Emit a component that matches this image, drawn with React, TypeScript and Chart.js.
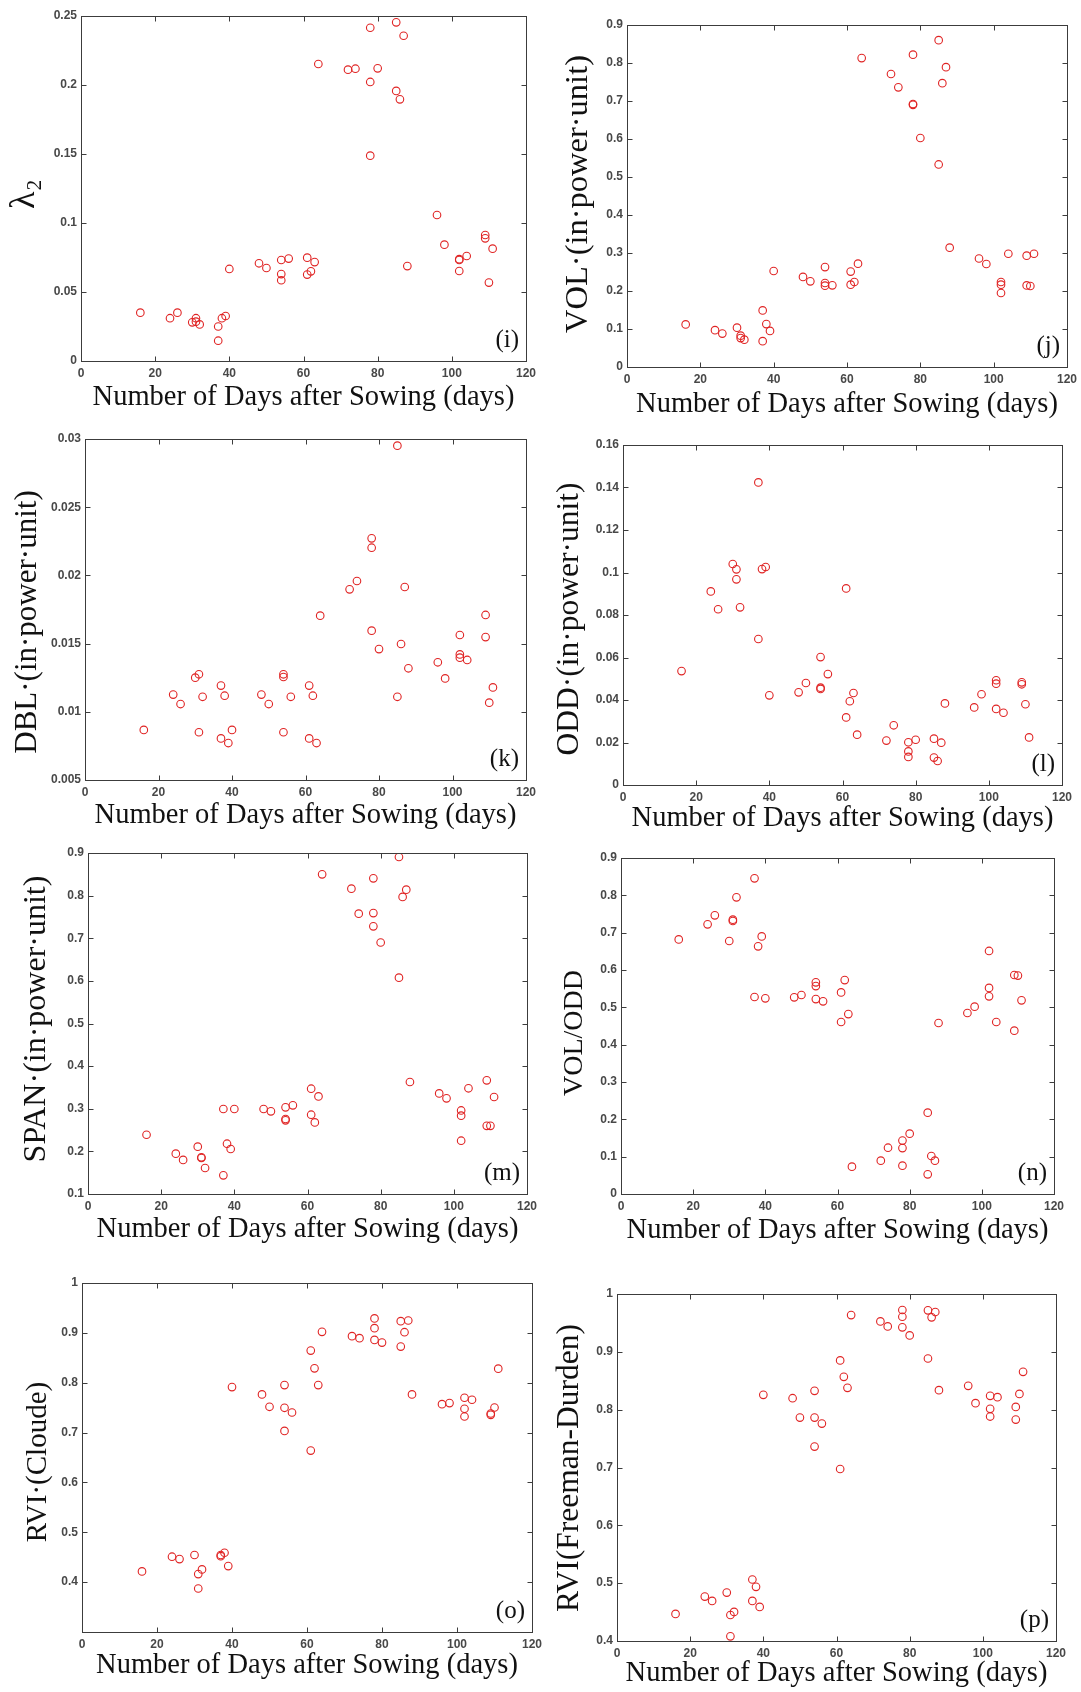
import React, { useEffect, useRef } from 'react';
import { Chart, registerables } from 'chart.js';

Chart.register(...registerables);

// ---- data ----
const days = [16, 24, 26, 30, 31, 31, 32, 37, 37, 38, 39, 40, 48, 50, 54, 54, 54, 56, 61, 61, 62, 63, 64, 72, 74, 78, 78, 78, 80, 85, 85, 86, 87, 88, 96, 98, 102, 102, 102, 104, 109, 109, 110, 111];

const lambda2 = [0.035, 0.031, 0.035, 0.028, 0.031, 0.0285, 0.0265, 0.025, 0.0147, 0.031, 0.0326, 0.0667, 0.0708, 0.0674, 0.0732, 0.063, 0.0585, 0.0742, 0.0749, 0.0626, 0.065, 0.0717, 0.2152, 0.2111, 0.2118, 0.2415, 0.2022, 0.1488, 0.2121, 0.2454, 0.1957, 0.1896, 0.2357, 0.0688, 0.1058, 0.0843, 0.0732, 0.0652, 0.0738, 0.0761, 0.0913, 0.0889, 0.0568, 0.0814];

const vol = [0.112, 0.097, 0.088, 0.1035, 0.0825, 0.076, 0.072, 0.149, 0.068, 0.113, 0.095, 0.2526, 0.237, 0.2254, 0.263, 0.221, 0.214, 0.215, 0.251, 0.2167, 0.2237, 0.272, 0.813, 0.771, 0.736, 0.822, 0.692, 0.69, 0.6026, 0.86, 0.533, 0.747, 0.789, 0.314, 0.2855, 0.271, 0.2237, 0.2166, 0.1947, 0.298, 0.293, 0.2147, 0.2132, 0.298];

const dbl = [0.00867, 0.01126, 0.01057, 0.0125, 0.01275, 0.0085, 0.0111, 0.01192, 0.00805, 0.01118, 0.00771, 0.00867, 0.01126, 0.01057, 0.01275, 0.01255, 0.0085, 0.0111, 0.01192, 0.00805, 0.01118, 0.00771, 0.01705, 0.01898, 0.01959, 0.02272, 0.02203, 0.01595, 0.0146, 0.02951, 0.0111, 0.01497, 0.01915, 0.01319, 0.01363, 0.01245, 0.01563, 0.01421, 0.01397, 0.0138, 0.0171, 0.01548, 0.01067, 0.01179];

const odd = [0.0536, 0.0911, 0.0827, 0.104, 0.1015, 0.0968, 0.0836, 0.1424, 0.0687, 0.1016, 0.1026, 0.0422, 0.0436, 0.048, 0.0602, 0.0458, 0.0452, 0.0522, 0.0925, 0.0318, 0.0394, 0.0433, 0.0237, 0.0209, 0.0281, 0.0201, 0.0158, 0.0132, 0.0213, 0.0218, 0.0129, 0.0113, 0.0199, 0.0384, 0.0365, 0.0427, 0.0493, 0.0477, 0.0358, 0.034, 0.0483, 0.0474, 0.038, 0.0224];

const span = [0.239, 0.1946, 0.18, 0.211, 0.186, 0.1845, 0.161, 0.1438, 0.2994, 0.218, 0.2056, 0.2994, 0.2994, 0.294, 0.3033, 0.276, 0.2728, 0.308, 0.347, 0.286, 0.268, 0.329, 0.85, 0.8163, 0.7577, 0.8406, 0.759, 0.728, 0.69, 0.8906, 0.6075, 0.797, 0.814, 0.3628, 0.336, 0.3244, 0.296, 0.2838, 0.225, 0.348, 0.3667, 0.26, 0.26, 0.3276];

const volOdd = [0.682, 0.7223, 0.7464, 0.6777, 0.7348, 0.7313, 0.7946, 0.8455, 0.5277, 0.6634, 0.69, 0.524, 0.5268, 0.533, 0.567, 0.557, 0.522, 0.516, 0.54, 0.4607, 0.573, 0.482, 0.0732, 0.0893, 0.124, 0.143, 0.123, 0.0759, 0.1616, 0.2179, 0.0527, 0.1018, 0.0893, 0.458, 0.4848, 0.5018, 0.651, 0.552, 0.5295, 0.4607, 0.5866, 0.4375, 0.585, 0.5188];

const rviCloude = [0.4215, 0.451, 0.4463, 0.4544, 0.4161, 0.3872, 0.4255, 0.4544, 0.452, 0.459, 0.4322, 0.7913, 0.7765, 0.7517, 0.7953, 0.7497, 0.7034, 0.7403, 0.8644, 0.6638, 0.8289, 0.7953, 0.902, 0.8933, 0.8893, 0.9289, 0.9094, 0.8859, 0.8805, 0.9235, 0.8725, 0.9013, 0.9248, 0.7765, 0.757, 0.7591, 0.7698, 0.7477, 0.7322, 0.7658, 0.7383, 0.7356, 0.7503, 0.8282];

const rviFD = [0.4468, 0.4768, 0.4693, 0.4837, 0.445, 0.4081, 0.4503, 0.5063, 0.4693, 0.4936, 0.4589, 0.8256, 0.8198, 0.7863, 0.8325, 0.7863, 0.7361, 0.7759, 0.8851, 0.6974, 0.8568, 0.8377, 0.9636, 0.9526, 0.944, 0.9723, 0.9607, 0.9423, 0.9284, 0.9717, 0.8885, 0.9596, 0.9688, 0.8337, 0.8412, 0.8112, 0.8239, 0.8014, 0.7881, 0.8216, 0.8048, 0.7829, 0.8273, 0.8654];

const xTitle = 'Number of Days after Sowing (days)';
const xMin = 0;
const xMax = 120;
const xStep = 20;

// ---- panel layout (page pixel positions) ----
type Panel = {
  label: string;
  yTitle: string;
  values: number[];
  yMin: number;
  yMax: number;
  yStep: number;
  hideY?: number[];
  box: [number, number, number, number];
  yTitlePos: [number, number];
  yTitleSize: number;
  xTitleOffset: number;
};

const panels: Panel[] = [
  { label: '(i)', yTitle: 'λ₂', values: lambda2, yMin: 0, yMax: 0.25, yStep: 0.05, box: [81, 16, 526, 361], yTitlePos: [25, 194], yTitleSize: 36, xTitleOffset: 37 },
  { label: '(j)', yTitle: 'VOL·(in·power·unit)', values: vol, yMin: 0, yMax: 0.9, yStep: 0.1, box: [627, 25, 1067, 367], yTitlePos: [578, 194], yTitleSize: 32.5, xTitleOffset: 38 },
  { label: '(k)', yTitle: 'DBL·(in·power·unit)', values: dbl, yMin: 0.005, yMax: 0.03, yStep: 0.005, box: [85, 439, 526, 780], yTitlePos: [28, 622], yTitleSize: 31, xTitleOffset: 36 },
  { label: '(l)', yTitle: 'ODD·(in·power·unit)', values: odd, yMin: 0, yMax: 0.16, yStep: 0.02, box: [623, 445, 1062, 785], yTitlePos: [570, 619], yTitleSize: 31.5, xTitleOffset: 34 },
  { label: '(m)', yTitle: 'SPAN·(in·power·unit)', values: span, yMin: 0.1, yMax: 0.9, yStep: 0.1, box: [88, 853, 527, 1194], yTitlePos: [37, 1019], yTitleSize: 32, xTitleOffset: 36 },
  { label: '(n)', yTitle: 'VOL/ODD', values: volOdd, yMin: 0, yMax: 0.9, yStep: 0.1, box: [621, 858, 1054, 1194], yTitlePos: [575, 1033], yTitleSize: 28, xTitleOffset: 37 },
  { label: '(o)', yTitle: 'RVI·(Cloude)', values: rviCloude, yMin: 0.3, yMax: 1, yStep: 0.1, hideY: [0.3], box: [82, 1283, 532, 1632], yTitlePos: [38, 1462], yTitleSize: 29, xTitleOffset: 34 },
  { label: '(p)', yTitle: 'RVI(Freeman-Durden)', values: rviFD, yMin: 0.4, yMax: 1, yStep: 0.1, box: [617, 1294, 1056, 1641], yTitlePos: [570, 1468], yTitleSize: 31.5, xTitleOffset: 33 },
];

const SERIF = '"Liberation Serif", "Times New Roman", serif';
const SANS = '"Liberation Sans", Arial, sans-serif';
const X_TITLE_SIZE = 28.5;
const PAD_T = 12;
const PAD_R = 30;
const TICK_FONT = { family: SANS, size: 12, weight: 'bold' as const };
const TICK_COLOR = '#484848';

const framePlugin = {
  id: 'matlabFrame',
  afterDatasetsDraw(chart: any, _args: any, opts: any) {
    const { ctx, chartArea: a, scales } = chart;
    ctx.save();
    ctx.strokeStyle = '#3c3c3c';
    ctx.lineWidth = 1;
    const l = Math.round(a.left) + 0.5;
    const r = Math.round(a.right) + 0.5;
    const t = Math.round(a.top) + 0.5;
    const b = Math.round(a.bottom) + 0.5;
    ctx.strokeRect(l, t, r - l, b - t);
    const len = 5;
    ctx.beginPath();
    scales.x.ticks.forEach((tk: any) => {
      const px = Math.round(scales.x.getPixelForValue(tk.value)) + 0.5;
      ctx.moveTo(px, b); ctx.lineTo(px, b - len);
      ctx.moveTo(px, t); ctx.lineTo(px, t + len);
    });
    scales.y.ticks.forEach((tk: any) => {
      const py = Math.round(scales.y.getPixelForValue(tk.value)) + 0.5;
      ctx.moveTo(l, py); ctx.lineTo(l + len, py);
      ctx.moveTo(r, py); ctx.lineTo(r - len, py);
    });
    ctx.stroke();
    // panel letter
    if (opts && opts.label) {
      ctx.font = `25px ${SERIF}`;
      ctx.fillStyle = '#111';
      ctx.textAlign = 'right';
      ctx.textBaseline = 'alphabetic';
      ctx.fillText(opts.label, a.right - 7, a.bottom - 14);
    }
    // y-axis title (rotated), placed at its measured centre
    if (opts && opts.yTitle) {
      ctx.translate(opts.yTitleX, opts.yTitleY);
      ctx.rotate(-Math.PI / 2);
      ctx.font = `${opts.yTitleSize}px ${SERIF}`;
      ctx.fillStyle = '#111';
      ctx.textAlign = 'center';
      ctx.textBaseline = 'middle';
      ctx.fillText(opts.yTitle, 0, 0);
    }
    ctx.restore();
  },
};

const fmt = (v: number) => String(Number(Number(v).toFixed(4)));

function PanelChart({ p }: { p: Panel }) {
  const ref = useRef<HTMLCanvasElement | null>(null);
  const [L, T, R, B] = p.box;
  const left = Math.max(0, Math.min(L - 75, Math.round(p.yTitlePos[0] - p.yTitleSize)));
  const wy = L - left;
  const top = T - PAD_T;
  const hx0 = p.xTitleOffset + (X_TITLE_SIZE * 1.2) / 2;
  const height = Math.round(B - top + hx0);
  const hx = height - (B - top);
  const width = R - left + PAD_R;

  useEffect(() => {
    if (!ref.current) return;
    const chart = new Chart(ref.current, {
      type: 'scatter',
      data: {
        datasets: [
          {
            data: days.map((d, i) => ({ x: d, y: p.values[i] })),
            pointStyle: 'circle',
            pointRadius: 3.8,
            pointBorderWidth: 1.1,
            borderColor: '#e02424',
            backgroundColor: 'rgba(0,0,0,0)',
            pointHoverRadius: 3.8,
          } as any,
        ],
      },
      options: {
        responsive: false,
        animation: false,
        devicePixelRatio: 1,
        events: [],
        layout: { padding: { left: 0, top: PAD_T, right: PAD_R, bottom: 0 }, autoPadding: false } as any,
        plugins: {
          legend: { display: false },
          tooltip: { enabled: false },
          matlabFrame: {
            label: p.label,
            yTitle: p.yTitle,
            yTitleSize: p.yTitleSize,
            yTitleX: p.yTitlePos[0] - left,
            yTitleY: p.yTitlePos[1] - top,
          },
        } as any,
        scales: {
          x: {
            type: 'linear',
            min: xMin,
            max: xMax,
            ticks: { stepSize: xStep, padding: 5, color: TICK_COLOR, font: TICK_FONT, maxRotation: 0, autoSkip: false, callback: (v: any) => fmt(v) },
            grid: { display: false, drawTicks: false, tickLength: 0 },
            border: { display: false },
            title: { display: true, text: xTitle, color: '#111', padding: 0, font: { family: SERIF, size: X_TITLE_SIZE } },
            afterFit: (s: any) => { s.height = hx; },
          },
          y: {
            type: 'linear',
            min: p.yMin,
            max: p.yMax,
            ticks: {
              stepSize: p.yStep,
              padding: 4,
              color: TICK_COLOR,
              font: TICK_FONT,
              autoSkip: false,
              callback: (v: any) => {
                const n = Number(Number(v).toFixed(4));
                if (p.hideY && p.hideY.some((h) => Math.abs(h - n) < 1e-9)) return '';
                return fmt(v);
              },
            },
            grid: { display: false, drawTicks: false, tickLength: 0 },
            border: { display: false },
            title: { display: false, text: p.yTitle },
            afterFit: (s: any) => { s.width = wy; },
          },
        },
      } as any,
      plugins: [framePlugin],
    });
    return () => chart.destroy();
  }, []);

  return (
    <canvas
      ref={ref}
      width={width}
      height={height}
      aria-label={`${p.yTitle} vs ${xTitle} ${p.label}`}
      style={{ position: 'absolute', left, top, width, height }}
    />
  );
}

export default function App() {
  return (
    <div style={{ position: 'absolute', left: 0, top: 0, width: 1081, height: 1692, background: '#fff', overflow: 'hidden' }}>
      {panels.map((p) => (
        <PanelChart key={p.label} p={p} />
      ))}
    </div>
  );
}
